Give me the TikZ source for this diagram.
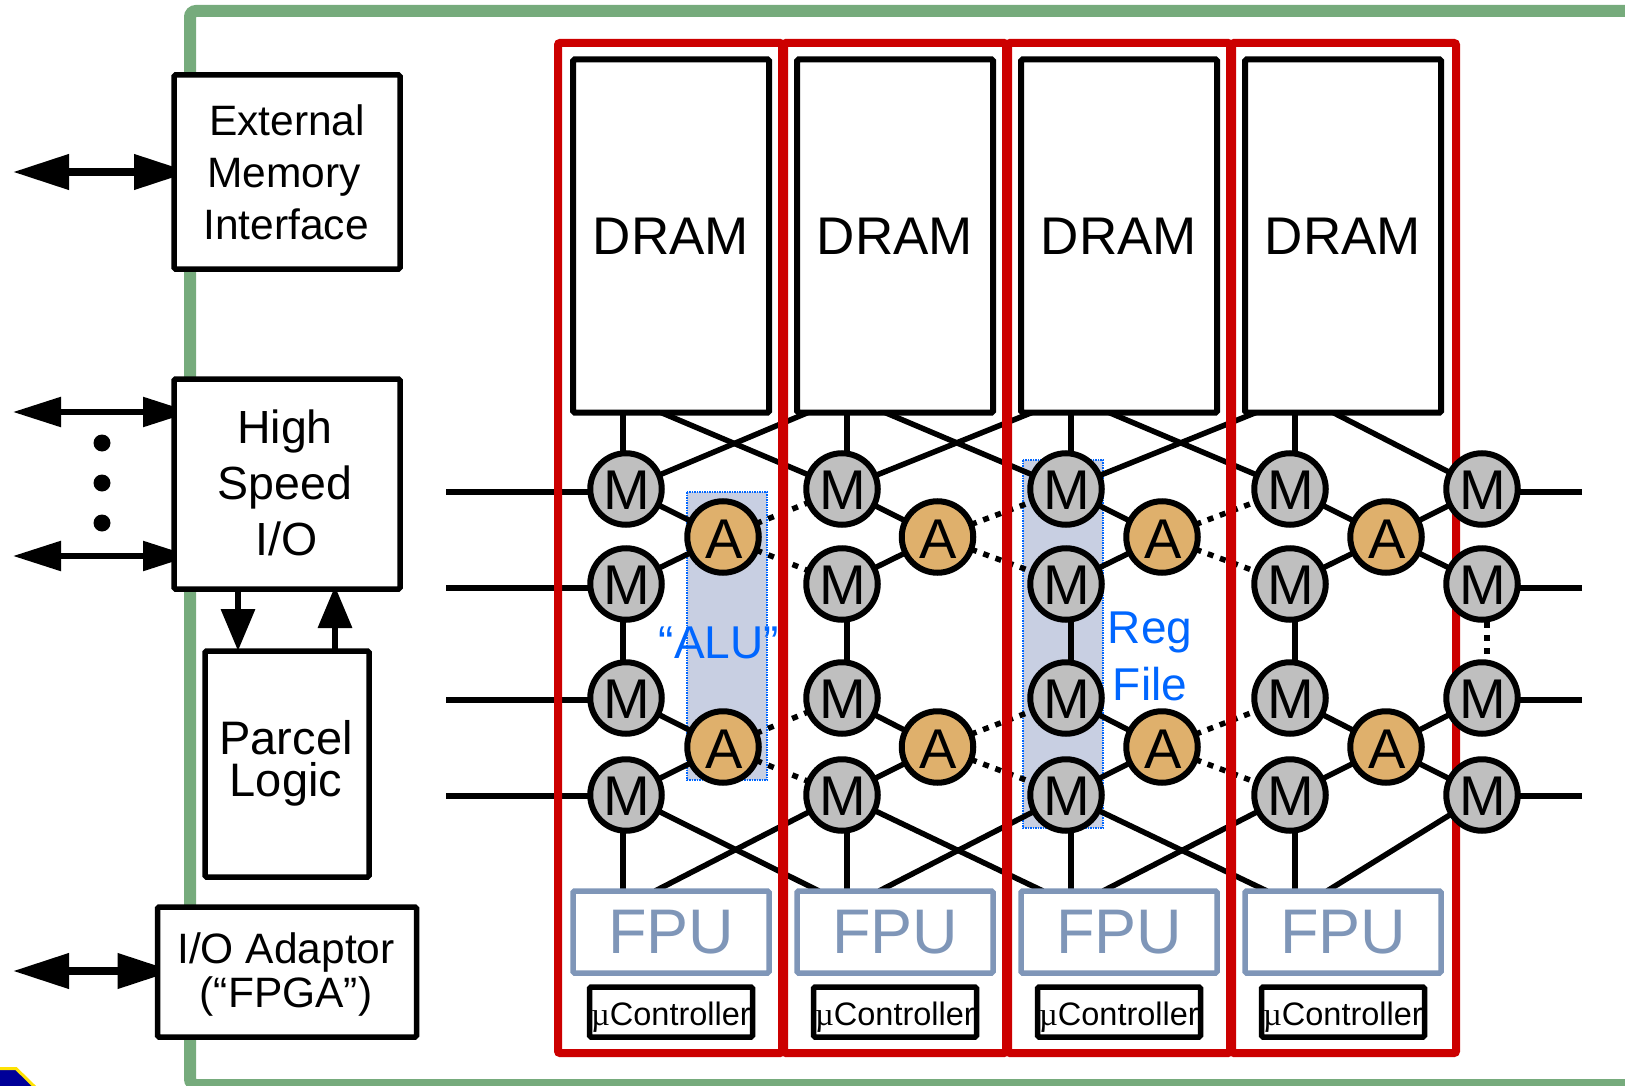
\documentclass[tikz,border=0pt]{standalone}
\usepackage{fontspec}
\setmainfont{Liberation Sans}
\newfontfamily\symbfont{Liberation Serif}
\usepackage{xcolor}
\usetikzlibrary{arrows.meta,backgrounds,calc}
\definecolor{framegreen}{HTML}{76AB7C}
\definecolor{colred}{HTML}{CC0000}
\definecolor{fpublue}{HTML}{7F96B8}
\definecolor{regfill}{HTML}{C8CFE2}
\definecolor{textblue}{HTML}{0066FF}
\definecolor{aorange}{HTML}{DFB06C}
\newcommand{\nudge}[2]{\raisebox{#1}[0pt][0pt]{#2}}

\begin{document}
\begin{tikzpicture}[
  x=1pt,y=-1pt,
  every node/.style={outer sep=0pt,inner sep=0pt,align=center},
  box/.style={draw,fill=white,line width=5.5pt,rounded corners=1.5pt},
  drambox/.style={box,line width=6pt,minimum width=196pt,minimum height=353pt,font=\fontsize{53}{60}\selectfont},
  fpubox/.style={draw=fpublue,text=fpublue,fill=white,line width=5.5pt,rounded corners=1.5pt,minimum width=196pt,minimum height=82pt,font=\fontsize{63}{70}\selectfont},
  ctrlbox/.style={box,minimum width=163pt,minimum height=50pt,font=\fontsize{32.5}{36}\selectfont},
  memnode/.style={circle,draw,fill=black!25,line width=6pt,minimum size=71.5pt,font=\fontsize{56}{60}\selectfont},
  alunode/.style={memnode,fill=aorange},
  wire/.style={line width=5.5pt},
  dotwire/.style={line width=5.5pt,dash pattern=on 6pt off 7pt},
  bluefont/.style={text=textblue,font=\fontsize{46}{57}\selectfont},
  regbox/.style={fill=regfill,draw=textblue,line width=1.5pt,densely dotted},
  bigarrow/.style={line width=7.5pt,{Triangle[length=56pt,width=34pt]}-{Triangle[length=56pt,width=34pt]}},
  smallarrow/.style={line width=5.5pt,{Triangle[length=48pt,width=29pt]}-{Triangle[length=48pt,width=29pt]}},
  busarrow/.style={line width=6.5pt,-{Triangle[length=42pt,width=33pt]}}
]
\useasboundingbox (0,0) rectangle (1625,1086);

% left hand blocks
\node[box,minimum width=226pt,minimum height=194pt,font=\fontsize{42.5}{52}\selectfont] (ext) at (287,172) {External\\\hspace*{-6pt}Memory\\\hspace*{-2pt}Interface};
\node[box,minimum width=226pt,minimum height=210pt,font=\fontsize{46.5}{56}\selectfont] (hs) at (287,484) {\nudge{-5.2pt}{\parbox{220pt}{\centering\hspace*{-4pt}High\\\hspace*{-4pt}Speed\\I/O}}};
\node[box,minimum width=164pt,minimum height=226pt,font=\fontsize{47}{41.5}\selectfont] (parcel) at (287,764) {\nudge{-5.4pt}{\parbox{160pt}{\centering\hspace*{-2pt}Parcel\\\hspace*{-2pt}Logic}}};
\node[box,minimum width=259pt,minimum height=130pt,font=\fontsize{42.5}{43.5}\selectfont] (io) at (287,972) {\nudge{-8.7pt}{\parbox{250pt}{\centering\hspace*{-2pt}I/O Adaptor\\\hspace*{-2pt}(“FPGA”)}}};

% columns
\foreach \i/\cx in {1/671,2/895,3/1119,4/1343} {
  \node[drambox] (d\i) at (\cx,236) {DRAM};
  \node[fpubox] (f\i) at (\cx,932) {FPU};
  \node[ctrlbox] (u\i) at (\cx,1012) {\nudge{-13pt}{{\symbfont µ}Controller}};
}
\foreach \i/\mx in {1/626,2/842,3/1066,4/1290,5/1482} {
  \foreach \r/\my in {1/489,2/584,3/698,4/795}
    \node[memnode] (m\i\r) at (\mx,\my) {\nudge{-20pt}{\hspace*{1.5pt}M}};
}
\foreach \i/\ax in {1/723,2/937.5,3/1162,4/1386} {
  \node[alunode] (a\i1) at (\ax,537) {\nudge{-21pt}{\hspace*{2pt}A}};
  \node[alunode] (a\i2) at (\ax,747) {\nudge{-21pt}{\hspace*{2pt}A}};
}
\node[bluefont] (regtext) at (1150,656) {Reg\\File};

% ports
\coordinate (extport) at (13,172);
\coordinate (hsport1) at (13,412);
\coordinate (hsport2) at (13,556);
\coordinate (ioport) at (13,971);
\node[circle,fill=black,minimum size=17pt] (dot1) at (102,443) {};
\node[circle,fill=black,minimum size=17pt] (dot2) at (102,483) {};
\node[circle,fill=black,minimum size=17pt] (dot3) at (102,523) {};
\foreach \r/\fy in {1/492,2/588,3/700,4/796} {
  \coordinate (inl\r) at (446,\fy);
  \coordinate (outr\r) at (1582,\fy);
}

\begin{scope}[on background layer]
  \draw[framegreen,line width=12pt,rounded corners=6pt] (1640,11) -- (190,11) -- (190,1085) -- (1640,1085);
  \draw[fill=blue!60!black,draw=yellow!85!orange,line width=3pt] (-5,1068.5) -- (16,1068.5) -- (38,1090) -- (-5,1090) -- cycle;
  \path[regbox] (687,492) rectangle (767,780);
  \path[regbox] (1023,460) rectangle (1103,828);
  \node[bluefont,anchor=base] (alutext) at (719,658) {“ALU”};

  \draw[bigarrow] (extport) -- ($(extport -| ext.west)+(16,0)$);
  \draw[smallarrow] (hsport1) -- ($(hsport1 -| hs.west)+(17,0)$);
  \draw[smallarrow] (hsport2) -- ($(hsport2 -| hs.west)+(17,0)$);
  \draw[bigarrow] (ioport) -- ($(ioport -| io.west)+(16,0)$);
  \draw[busarrow] ($(hs.south west)+(64,0)$) -- ($(parcel.north west)+(33,0)$);
  \draw[busarrow] ($(parcel.north west)+(130,0)$) -- ($(hs.south west)+(161,-3)$);

  % wires in each column
  \foreach \i/\ox in {1/-3,2/5,3/5,4/5} {
    \draw[wire] ($(d\i.south west)+(50,0)$) -- ($(m\i1)+(\ox,0)$);
    \draw[wire] ($(m\i2)+(\ox,0)$) -- ($(m\i3)+(\ox,0)$);
    \draw[wire] ($(m\i4)+(\ox,0)$) -- ($(f\i.north west)+(50,0)$);
    \draw[wire] (m\i1) -- (a\i1);
    \draw[wire] (m\i2) -- (a\i1);
    \draw[wire] (m\i3) -- (a\i2);
    \draw[wire] (m\i4) -- (a\i2);
  }
  \foreach \i/\n in {1/2,2/3,3/4,4/5} {
    \draw[wire] ($(d\i.south west)+(88,0)$) -- (m\n1);
    \draw[wire] ($(f\i.north west)+(82,0)$) -- (m\n4);
  }
  \foreach \i/\n in {1/2,2/3,3/4} {
    \draw[wire] (m\i1) -- ($(d\n.south west)+(11,0)$);
    \draw[wire] (m\i4) -- ($(f\n.north west)+(22,0)$);
    \draw[dotwire] (a\i1) -- (m\n1);
    \draw[dotwire] (a\i1) -- (m\n2);
    \draw[dotwire] (a\i2) -- (m\n3);
    \draw[dotwire] (a\i2) -- (m\n4);
  }
  \draw[wire] (a41) -- (m51);
  \draw[wire] (a41) -- (m52);
  \draw[wire] (a42) -- (m53);
  \draw[wire] (a42) -- (m54);
  \draw[dotwire] ($(m52.south)+(5,2)$) -- ($(m53.north)+(5,-2)$);
  \foreach \r in {1,2,3,4} {
    \draw[wire] (inl\r) -- (inl\r -| m1\r);
    \draw[wire] (outr\r) -- (outr\r -| m5\r);
  }

  % red column frames
  \foreach \xa/\xb in {558/782,784/1006,1008/1230,1232/1456}
    \draw[colred,line width=8pt,rounded corners=2pt] (\xa,43) rectangle (\xb,1053);
\end{scope}
\end{tikzpicture}
\end{document}
